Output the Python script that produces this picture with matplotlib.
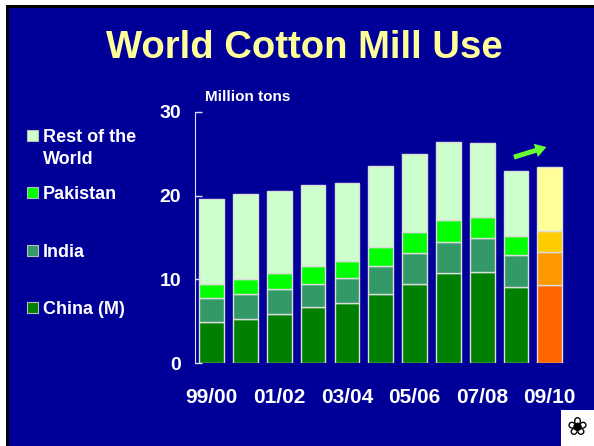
import numpy as np
import matplotlib
matplotlib.use("Agg")
import matplotlib.pyplot as plt
from matplotlib.patches import Rectangle

plt.rcParams['font.family'] = ['Liberation Sans', 'DejaVu Sans']
plt.rcParams['font.weight'] = 'bold'

seasons = ['99/00', '00/01', '01/02', '02/03', '03/04', '04/05',
           '05/06', '06/07', '07/08', '08/09', '09/10']
tick_labels = ['99/00', '01/02', '03/04', '05/06', '07/08', '09/10']
series = ['China (M)', 'India', 'Pakistan', 'Rest of the\nWorld']

# cumulative tops (million tons)
china = [4.9, 5.3, 5.9, 6.7, 7.2, 8.3, 9.5, 10.7, 10.9, 9.1, 9.35]
india_top = [7.75, 8.25, 8.8, 9.5, 10.2, 11.6, 13.1, 14.5, 14.9, 12.85, 13.25]
pak_top = [9.4, 10.1, 10.75, 11.55, 12.15, 13.9, 15.6, 17.05, 17.5, 15.15, 15.75]
total = [19.65, 20.2, 20.6, 21.3, 21.55, 23.6, 25.0, 26.35, 26.3, 22.95, 23.45]

china = np.array(china)
india = np.array(india_top) - china
pak = np.array(pak_top) - np.array(india_top)
rest = np.array(total) - np.array(pak_top)

green_cols = ['#008000', '#339966', '#00FF00', '#CCFFCC']
fcst_cols = ['#FF6600', '#FF9900', '#FFCC00', '#FFFF99']

bg = '#000099'
fig = plt.figure(figsize=(5.94, 4.46), dpi=100, facecolor='white')
fig.patches.append(Rectangle((6 / 594, 0), 1, (446 - 5) / 446, transform=fig.transFigure,
                             facecolor='black', edgecolor='none', zorder=-3))
fig.patches.append(Rectangle((9 / 594, 0), 1, (446 - 8) / 446, transform=fig.transFigure,
                             facecolor=bg, edgecolor='none', zorder=-2))

ax = fig.add_axes([0.328, 0.186, 0.626, 0.563])
ax.set_facecolor('none')

x = np.arange(len(seasons))
layers = [china, india, pak, rest]
bottom = np.zeros(len(seasons))
for i, vals in enumerate(layers):
    cols = [green_cols[i]] * (len(seasons) - 1) + [fcst_cols[i]]
    ax.bar(x, vals, bottom=bottom, width=0.73, color=cols,
           edgecolor='#DDDDDD', linewidth=1)
    bottom += vals

ax.set_xlim(-0.5, 10.5)
ax.set_ylim(0, 30)
ax.set_yticks([0, 10, 20, 30])
ax.set_xticks(x[::2])
ax.set_xticklabels(tick_labels)
for s in ['top', 'right', 'bottom']:
    ax.spines[s].set_visible(False)
ax.spines['left'].set_color('#DDDDFF')
ax.tick_params(axis='y', direction='in', length=5, color='#DDDDFF', width=1,
               labelcolor='white', labelsize=14, pad=10)
ax.tick_params(axis='x', length=0, labelcolor='white', labelsize=15, pad=18)
for t in ax.get_xticklabels() + ax.get_yticklabels():
    t.set_fontweight('bold')

# green arrow pointing to the forecast
ax.annotate('', xy=(9.98, 25.9), xytext=(8.86, 24.5),
            arrowprops=dict(arrowstyle='simple,head_width=1.0,head_length=0.8,tail_width=0.35',
                            color='#66FF33', lw=0))

fig.text(0.512, 1 - 48 / 446, 'World Cotton Mill Use', color='#FFFF99',
         fontsize=27.5, fontweight='bold', ha='center', va='center')
fig.text(205 / 594, 1 - 97 / 446, 'Million tons', color='white',
         fontsize=11, fontweight='bold', ha='left', va='center')

# legend on the left
leg_y = [307, 250, 192, 135]
for name, col, yy in zip(series, green_cols, leg_y):
    fig.patches.append(Rectangle((27 / 594, 1 - (yy + 5.5) / 446), 11 / 594, 11 / 446,
                                 transform=fig.transFigure, facecolor=col,
                                 edgecolor='#BBBBBB', linewidth=0.8))
    fig.text(43 / 594, 1 - (yy - 6) / 446, name, color='white', fontsize=13,
             fontweight='bold', ha='left', va='top', linespacing=1.4)

# cotton logo corner
fig.patches.append(Rectangle((561 / 594, 0), 33 / 594, 36 / 446, transform=fig.transFigure,
                             facecolor='white', edgecolor='none'))
fig.text(577 / 594, 18 / 446, '\u2740', color='black', fontsize=18,
         ha='center', va='center', family=['DejaVu Sans'])

fig.savefig('out.png', dpi=100, facecolor=fig.get_facecolor())
